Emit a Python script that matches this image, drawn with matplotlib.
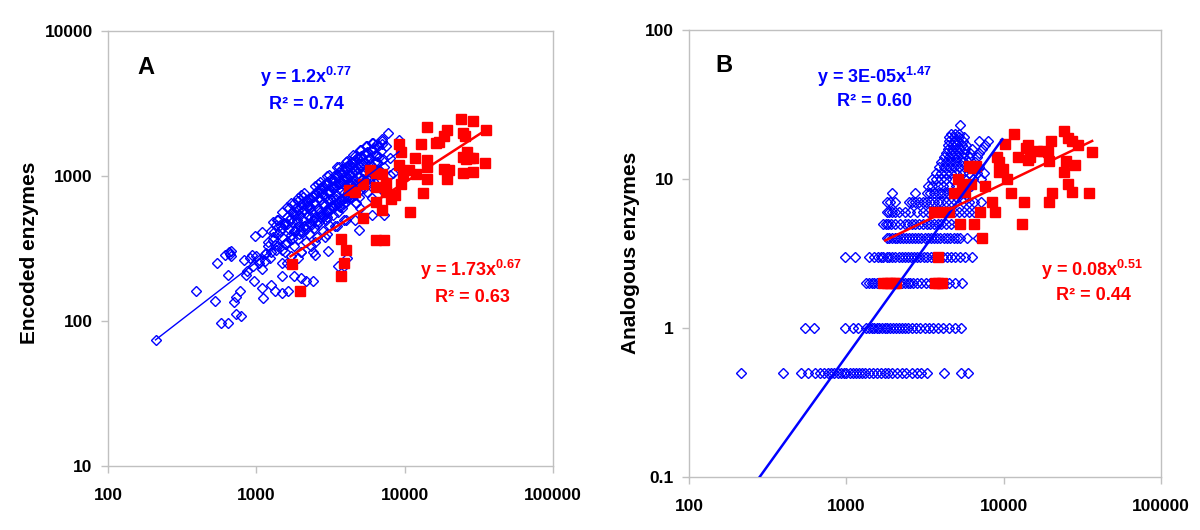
import numpy as np
import matplotlib
matplotlib.use("Agg")
import matplotlib.pyplot as plt

plt.rcParams['font.family'] = ['Liberation Sans', 'DejaVu Sans']
plt.rcParams['mathtext.fontset'] = 'custom'
plt.rcParams['mathtext.rm'] = 'Liberation Sans'
plt.rcParams['mathtext.bf'] = 'Liberation Sans:bold'

BLUE = '#0000ff'
RED = '#ff0000'
EDGE = '#c0c0c0'

# ---- panel A : encoded enzymes ----
a_blue_x = [212, 395, 525, 575, 640, 545, 615, 650, 660, 670, 680, 640, 735, 710, 725, 790,
            780, 850, 965, 980, 1090, 1090, 1110, 820, 930, 1050, 1170, 1260, 1330, 1500,
            1640, 1480, 1330, 1380, 1530, 1800, 2000, 2150, 2400, 2490, 3020, 3550, 4100,
            3900, 2490, 1900, 4100, 7780, 9100, 6990, 7950, 8300, 7950, 6050, 4900, 4650, 7250,
            1400, 1450, 1500, 1550, 1550, 1600, 1620, 1650, 1700, 1700, 1750, 1780, 1800, 1820,
            1850, 1880, 1900, 1950, 1980, 2000, 2000, 2050, 2080, 2100, 2150, 2150, 2200, 2220,
            2250, 2300, 2300, 2350, 2380, 2400, 2450, 2500, 2500, 2550, 2600, 2620, 2650, 2700,
            2750, 2800, 2800, 2850, 2900, 2950, 3000, 3000, 3050, 3100, 3150, 3200, 3250, 3300,
            3300, 3350, 3400, 3450, 3500, 3550, 3600, 3650, 3700, 3750, 3800, 3850, 3900, 3950,
            4000, 4050, 4100, 4150, 4200, 4250, 4300, 4400, 4450, 4500, 4550, 4600, 4700, 4750,
            4800, 4900, 5000, 5000, 5100, 5200, 5300, 5400, 5500, 5600, 5700, 5800, 5900, 6000,
            6100, 6300, 6500, 6700, 6900, 7200, 7500, 7300, 6200, 5600, 4700, 3900, 3400, 2900,
            2400, 1900, 1600, 1300, 1250, 1200, 1150, 1100, 1050, 1000, 950, 900, 870, 1350,
            1700, 2100, 2600, 3100, 3600, 4100, 4600, 5100, 5600, 6100, 6500, 7000,
            1250, 1400, 1650, 1900, 2200, 2500, 2800, 3100, 3400, 3700, 4000, 4300, 4600, 5000,
            5400, 5800, 6300, 2100, 2700, 3300, 3900, 4500, 5200, 1800, 2400, 3000, 3600, 4200,
            # upper edge of the cloud
            1300, 1500, 1800, 2000, 2500, 3000, 3500, 4000, 4500, 5000, 5500, 6000, 7000,
            # lower edge of the cloud
            1500, 2000, 2500, 3000, 3500, 4000, 5000, 6000, 7000,
            # dense core
            1200, 1300, 1400, 1500, 1600, 1700, 1800, 1900, 2000, 2100, 2200, 2300, 2400,
            2500, 2600, 2700, 2800, 2900, 3000, 3200, 3400, 3600, 3800, 4000, 4200, 4400,
            4600, 4800, 5000, 5300, 5600, 5900, 6200, 6600,
            1150, 1350, 1550, 1750, 1950, 2150, 2350, 2550, 2750, 2950, 3150, 3350, 3550,
            3750, 3950, 4150, 4350, 4550, 4750, 5100, 5500, 5900, 6400, 6800,
            1450, 1650, 1850, 2050, 2250, 2450, 2650, 2850, 3050, 3250, 3450, 3650, 3850,
            4050, 4250, 4450, 4650, 4850, 5200, 5700, 6500,
            # scattered core points
            1320, 1580, 1730, 1970, 2180, 2330, 2570, 2760, 2980, 3180, 3420, 3680, 3920,
            4180, 4420, 4680, 4950, 5350, 5750, 6150, 1620, 1870, 2060, 2420, 2690, 3120,
            3580, 4060, 4520, 5150, 5650, 1230, 1480, 2270, 2880, 3380, 3860, 4380, 4900, 6700]
a_blue_y = [74, 160, 138, 97, 97, 250, 285, 300, 290, 305, 280, 206, 147, 136, 112, 108,
            162, 206, 190, 386, 412, 168, 143, 263, 283, 263, 294, 176, 162, 155,
            162, 203, 335, 500, 476, 203, 197, 188, 188, 283, 304, 239, 272,
            239, 736, 668, 1140, 1970, 1780, 1650, 1016, 1040, 1320, 542, 427, 500, 542,
            330, 420, 380, 300, 470, 350, 520, 430, 280, 390, 480, 560, 330, 420,
            600, 500, 370, 450, 540, 300, 640, 410, 500, 580, 350, 460, 680, 530,
            400, 610, 470, 330, 560, 720, 440, 520, 640, 380, 590, 780, 480, 680,
            550, 420, 820, 620, 720, 500, 580, 880, 680, 460, 770, 620, 940, 540,
            710, 820, 640, 1000, 740, 560, 880, 680, 1050, 790, 600, 940, 720, 1120,
            840, 660, 990, 780, 1180, 900, 700, 1040, 830, 1250, 960, 740, 1100, 880,
            1320, 1000, 800, 1180, 1380, 1060, 900, 1250, 1450, 1120, 960, 1320, 1520, 1180,
            1020, 1400, 1250, 1100, 1480, 1300, 1600, 1150, 850, 780, 650, 500, 450, 380,
            300, 270, 250, 380, 300, 350, 260, 230, 250, 280, 240, 270, 220, 460,
            650, 760, 880, 1020, 1150, 1260, 1380, 1500, 1620, 1700, 1650, 1750,
            420, 500, 600, 700, 620, 740, 650, 760, 860, 900, 950, 1000, 1080, 1150,
            1050, 1200, 1250, 450, 560, 610, 760, 900, 960, 420, 500, 520, 620, 700,
            480, 560, 650, 740, 850, 1000, 1150, 1250, 1400, 1500, 1600, 1700, 1800,
            250, 300, 350, 400, 450, 500, 600, 700, 800,
            330, 360, 400, 440, 470, 510, 540, 580, 610, 640, 670, 700, 730,
            760, 790, 820, 850, 880, 910, 960, 1010, 1060, 1110, 1160, 1200, 1240,
            1280, 1320, 1360, 1410, 1460, 1510, 1560, 1620,
            290, 310, 340, 370, 400, 430, 460, 490, 520, 550, 580, 610, 640,
            670, 700, 730, 760, 790, 820, 870, 920, 970, 1030, 1080,
            460, 500, 540, 580, 620, 660, 700, 740, 780, 820, 860, 900, 940,
            980, 1020, 1060, 1100, 1140, 1200, 1280, 1380,
            410, 340, 560, 420, 650, 520, 470, 760, 560, 850, 690, 610, 1060,
            720, 980, 650, 1230, 820, 1330, 930, 610, 480, 720, 500, 910, 690,
            1000, 880, 1160, 960, 1280, 270, 310, 590, 530, 930, 640, 870, 720, 1360]

a_red_x = [1740, 1970, 3750, 4030, 3900, 3750, 5250, 6400, 7250, 6990, 5850, 4200, 4600,
           5250, 6400, 6400, 7500, 8150, 8600, 9200, 9500, 9200, 9800, 9500, 10700, 11700,
           10900, 12000, 12800, 13300, 14100, 14200, 14100, 14200, 16200, 17000, 18300,
           19300, 18300, 19300, 20000, 24000, 24600, 25500, 29000, 24600, 27700, 29000,
           26500, 24600, 28700, 34800, 35500, 26000, 7000, 6400, 7500]
a_red_y = [247, 162, 368, 309, 251, 203, 517, 362, 362, 578, 1100, 795, 770,
           880, 838, 658, 773, 690, 736, 1650, 1470, 1190, 1016, 880, 1100, 1320,
           560, 1030, 1650, 760, 950, 2170, 1295, 1160, 1680, 1720, 1880,
           2090, 1120, 950, 1100, 2460, 1970, 1900, 2390, 1360, 1320, 1320,
           1470, 1050, 1060, 1230, 2090, 1300, 1030, 1050, 900]

# trend line end points
a_blue_fit_x = [209, 9160]
a_blue_fit_y = [74, 1470]
a_red_fit_x = [1700, 36200]
a_red_fit_y = [279, 2110]

# ---- panel B : analogous enzymes (blue rows at discrete counts) ----
b_rows = {
    0.5: [215, 398, 517, 572, 636, 680, 720, 760, 800, 840, 880, 920, 960, 1000, 1050, 1100,
          1150, 1200, 1260, 1320, 1400, 1480, 1560, 1650, 1750, 1850, 1950, 2100, 2250,
          2400, 2600, 2800, 3000, 3250, 4170, 5380, 5950],
    1: [547, 622, 984, 1100, 1180, 1340, 1400, 1450, 1500, 1560, 1620, 1680, 1750, 1820,
        1900, 1980, 2060, 2150, 2250, 2350, 2450, 2600, 2760, 2950, 3150, 3350, 3550, 3800,
        4100, 4500, 4900, 5350],
    2: [1340, 1400, 1450, 1500, 1560, 1630, 1700, 1780, 1860, 1950, 2050, 2150, 2250, 2350,
        2450, 2550, 2650, 2800, 3000, 3200, 3400, 4200, 4500, 4900, 5450],
    3: [984, 1130, 1400, 1500, 1580, 1650, 1720, 1800, 1880, 1960, 2050, 2150, 2250, 2350,
        2450, 2560, 2680, 2800, 2950, 3100, 3250, 3450, 3650, 4100, 4350, 4600, 4900, 5250,
        5660, 6300],
    4: [1810, 1880, 1950, 2030, 2110, 2200, 2300, 2400, 2500, 2600, 2720, 2850, 3000, 3150,
        3300, 3450, 3600, 3780, 3950, 4150, 4350, 4550, 4800, 5050, 5300, 5850, 6900],
    5: [1710, 1780, 1850, 1930, 2050, 2200, 2350, 2480, 2600, 2750, 2900, 3050, 3250, 3400,
        3600, 3800, 4000, 4300, 4600, 5050],
    6: [1810, 1880, 1960, 2050, 2150, 2350, 2550, 2800, 3050, 3300, 3550, 3800, 4050, 4400,
        4800, 5200, 5600, 6000, 6500],
    7: [1810, 1900, 2050, 2500, 2600, 2750, 2900, 3050, 3200, 3400, 3600, 3800, 4000, 4300,
        4600, 5000, 5500, 6000, 6500, 7200],
    8: [1950, 2750, 3250, 3400, 3600, 3800, 4000, 4200, 4400, 4700, 5000, 5300, 5660],
    9: [3300, 3500, 3800, 4100, 4500, 5000, 5500, 6200],
    10: [3500, 3700, 4000, 4300, 4700, 5200, 5700, 6400, 7200],
    11: [3700, 4000, 4300, 4600, 5000, 5500, 6000, 6800, 7500],
    12: [3900, 4200, 4500, 4800, 5200, 5600, 6200, 7000],
    13: [4000, 4300, 4600, 5000, 5400, 5900, 6600],
    14: [4200, 4500, 4800, 5100, 5500, 6000, 6800],
    15: [4300, 4600, 4900, 5200, 5600, 6100, 7000],
    16: [4400, 4700, 5000, 5300, 5700, 6300, 7300],
    17: [4400, 4700, 5000, 5400, 5800, 7600],
    18: [4500, 4800, 5100, 5500, 7000, 7900],
    19: [4500, 4800, 5200, 5600],
    20: [4600, 4900, 5200],
    23: [5300],
}
b_blue_x = [x for k in b_rows for x in b_rows[k]]
b_blue_y = [k for k in b_rows for x in b_rows[k]]

b_red_x = [11700, 10200, 9100, 9300, 9300, 9900, 10500, 11100, 12400, 13900, 14300, 14300,
           14600, 16200, 17800, 19400, 20000, 19000, 24300, 25600, 27300, 24800, 24300,
           28600, 25600, 27300, 29500, 36500, 34800, 13500, 13000, 20400, 19400, 8800,
           8400, 7650, 6370, 6050, 6700, 6200, 5690, 5400, 5100, 4800, 5300, 6500, 7100,
           7300, 3630, 4050, 4500, 3850, 1710, 1800, 1900, 2000, 2080, 3650, 3850, 4050]
b_red_y = [20.1, 17.1, 14.1, 13, 11.2, 11.7, 10, 8.0, 14.1, 16.1, 17, 13.4,
           14.1, 15.5, 15.5, 13.2, 18, 15.1, 20.9, 18.9, 17.9, 13.2, 11.2,
           12.4, 9.3, 8.2, 17, 15.2, 8.0, 7, 5, 8, 7, 6,
           7, 9, 11.8, 12.3, 12.3, 9.3, 8.2, 9.3, 10, 8, 5, 5, 6,
           4, 6, 6, 6, 3, 2, 2, 2, 2, 2, 2, 2, 2]

b_blue_fit_x = [281, 9800]
b_blue_fit_y = [0.1, 18.5]
b_red_fit_x = [1766, 36500]
b_red_fit_y = [3.87, 18]

x_ticks = [100, 1000, 10000, 100000]
a_y_ticks = [10, 100, 1000, 10000]
b_y_ticks = [0.1, 1, 10, 100]


def style(ax, yticks):
    ax.set_xscale('log')
    ax.set_yscale('log')
    ax.set_xlim(100, 100000)
    ax.set_ylim(yticks[0], yticks[-1])
    ax.set_xticks(x_ticks, [str(t) for t in x_ticks])
    ax.set_yticks(yticks, [('%g' % t) for t in yticks])
    ax.minorticks_off()
    for s in ax.spines.values():
        s.set_color(EDGE)
        s.set_linewidth(1)
    ax.tick_params(axis='both', direction='out', length=5, width=1, color=EDGE,
                   labelsize=12.5)
    ax.tick_params(axis='x', pad=11)
    ax.tick_params(axis='y', pad=6)
    for lab in ax.get_xticklabels() + ax.get_yticklabels():
        lab.set_fontweight('bold')


fig = plt.figure(figsize=(12, 5.3), dpi=100)
axA = fig.add_axes([0.09, 0.1208, 0.3708, 0.8208])
axB = fig.add_axes([0.5742, 0.1, 0.3933, 0.8434])

axA.plot(a_blue_x, a_blue_y, 'D', ms=5.3, mfc='none', mec=BLUE, mew=1.0, zorder=2)
axA.plot(a_red_x, a_red_y, 's', ms=7.5, mfc=RED, mec=RED, zorder=3)
axA.plot(a_blue_fit_x, a_blue_fit_y, '-', color=BLUE, lw=1.0, zorder=4)
axA.plot(a_red_fit_x, a_red_fit_y, '-', color=RED, lw=1.8, zorder=4)
style(axA, a_y_ticks)

axB.plot(b_blue_x, b_blue_y, 'D', ms=5.3, mfc='none', mec=BLUE, mew=1.0, zorder=2)
axB.plot(b_red_x, b_red_y, 's', ms=7.5, mfc=RED, mec=RED, zorder=3)
axB.plot(b_blue_fit_x, b_blue_fit_y, '-', color=BLUE, lw=1.8, zorder=4)
axB.plot(b_red_fit_x, b_red_fit_y, '-', color=RED, lw=1.8, zorder=4)
style(axB, b_y_ticks)

eq = dict(ha='center', va='center', fontsize=13, fontweight='bold')
axA.text(0.085, 0.915, 'A', transform=axA.transAxes, ha='center', va='center',
         fontsize=17, fontweight='bold')
axA.text(0.445, 0.894, r'y = 1.2x$^{\mathbf{0.77}}$', color=BLUE, transform=axA.transAxes, **eq)
axA.text(0.447, 0.832, 'R² = 0.74', color=BLUE, transform=axA.transAxes, **eq)
axA.text(0.816, 0.45, r'y = 1.73x$^{\mathbf{0.67}}$', color=RED, transform=axA.transAxes, **eq)
axA.text(0.818, 0.388, 'R² = 0.63', color=RED, transform=axA.transAxes, **eq)

axB.text(0.075, 0.92, 'B', transform=axB.transAxes, ha='center', va='center',
         fontsize=17, fontweight='bold')
axB.text(0.392, 0.895, r'y = 3E-05x$^{\mathbf{1.47}}$', color=BLUE, transform=axB.transAxes, **eq)
axB.text(0.393, 0.839, 'R² = 0.60', color=BLUE, transform=axB.transAxes, **eq)
axB.text(0.854, 0.463, r'y = 0.08x$^{\mathbf{0.51}}$', color=RED, transform=axB.transAxes, **eq)
axB.text(0.856, 0.407, 'R² = 0.44', color=RED, transform=axB.transAxes, **eq)

fig.text(0.025, 0.523, 'Encoded enzymes', rotation=90, ha='center', va='center',
         fontsize=15, fontweight='bold')
fig.text(0.525, 0.523, 'Analogous enzymes', rotation=90, ha='center', va='center',
         fontsize=15, fontweight='bold')

fig.savefig('out.png', dpi=100)
